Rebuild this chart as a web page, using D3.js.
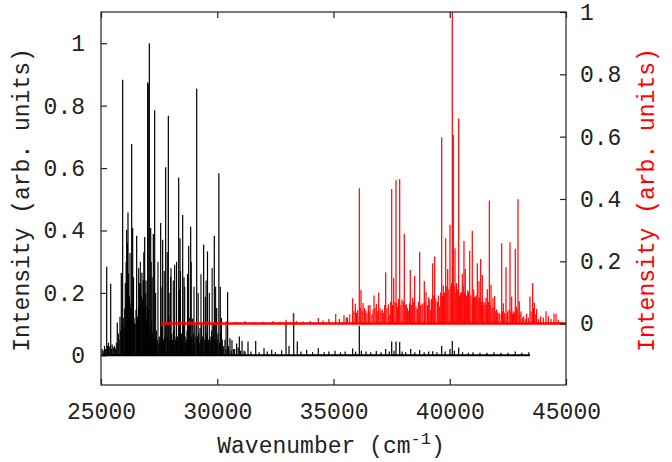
<!DOCTYPE html>
<html>
<head>
<meta charset="utf-8">
<script src="https://cdn.jsdelivr.net/npm/d3@7"></script>
<style>
  html, body { margin: 0; padding: 0; background: #fff; }
  svg { display: block; }
  text { font-family: "Liberation Mono", "Courier New", monospace; }
</style>
</head>
<body>
<svg id="chart" width="672" height="462"></svg>
<script>
// ---------- data ----------
const xTicks = [25000, 30000, 35000, 40000, 45000];
const yLeftTicks = [0, 0.2, 0.4, 0.6, 0.8, 1];
const yRightTicks = [0, 0.2, 0.4, 0.6, 0.8, 1];
const xLabel = "Wavenumber (cm";
const xLabelSup = "-1";
const yLeftLabel = "Intensity (arb. units)";
const yRightLabel = "Intensity (arb. units)";

// black spectrum (left axis): main peaks
const blackX = [25050,25150,25245,25320,25387,25417,25480,25530,25632,25700,25745,25817,25874,25932,25990,
  26046,26104,26161,26175,26220,26247,26290,26319,26362,26390,26448,26505,26534,26578,26649,26706,26760,
  26820,26878,26922,26935,26980,27007,27030,27036,27079,27137,27180,27223,27251,27308,27322,27380,27422,
  27508,27566,27610,27652,27700,27753,27781,27830,27896,27968,27997,28040,28083,28130,28169,28230,28283,
  28341,28369,28398,28460,28513,28541,28570,28620,28656,28700,28756,28771,28810,28857,28900,28944,28990,
  29043,29116,29160,29202,29258,29331,29415,29487,29546,29580,29640,29688,29760,29831,29874,29975,30030,
  30069,30131,30147,30217,30280,30333,30446,30476,30547,30633,30700,30834,30900,30949,31066,31150,31323,
  31450,31654,31800,32011,32150,32342,32500,32772,32957,33086,33288,33443,33600,33847,34100,34346,34600,
  34800,35064,35300,35500,35825,35950,36110,36200,36400,36600,36840,37043,37245,37400,37503,37600,37688,
  37847,37950,38100,38320,38500,38707,38900,39094,39266,39450,39653,39800,40010,40110,40200,40384,40550,
  40800,41000,41300,41600,41900,42200,42500,42819,43100,43400];
const blackY = [0.02,0.03,0.284,0.04,0.03,0.229,0.035,0.026,0.022,0.105,0.07,0.124,0.264,0.883,0.09,
  0.232,0.402,0.458,0.263,0.19,0.328,0.167,0.677,0.408,0.183,0.104,0.145,0.383,0.124,0.232,0.232,0.265,
  0.24,0.379,0.199,0.24,0.16,0.875,0.87,0.145,1.0,0.408,0.11,0.07,0.389,0.785,0.04,0.08,0.05,
  0.06,0.424,0.09,0.37,0.05,0.06,0.603,0.1,0.768,0.124,0.252,0.07,0.05,0.08,0.29,0.06,0.06,
  0.57,0.21,0.375,0.07,0.45,0.1,0.25,0.06,0.04,0.08,0.09,0.351,0.12,0.413,0.05,0.118,0.07,
  0.1,0.854,0.06,0.07,0.088,0.1,0.355,0.188,0.07,0.333,0.05,0.06,0.08,0.1,0.383,0.152,0.07,
  0.583,0.22,0.07,0.051,0.03,0.05,0.202,0.03,0.055,0.048,0.02,0.038,0.025,0.06,0.047,0.015,0.044,
  0.012,0.046,0.01,0.023,0.012,0.018,0.01,0.016,0.105,0.03,0.135,0.044,0.012,0.018,0.01,0.023,0.01,
  0.012,0.015,0.01,0.012,0.022,0.012,0.095,0.015,0.012,0.01,0.014,0.01,0.02,0.012,0.044,0.015,0.044,
  0.043,0.012,0.01,0.02,0.01,0.017,0.01,0.012,0.013,0.01,0.03,0.012,0.02,0.046,0.015,0.025,0.01,
  0.008,0.01,0.008,0.008,0.01,0.008,0.008,0.012,0.008,0.01];
// black spectrum: further mid-height lines in the dense band
const blackMidX = [26080,26140,26400,26620,26690,26840,27160,27200,27350,27450,27620,27720,27850,27930,
  28010,28110,28250,28420,28600,28720,28880,29000,29180,29300,29520,29660,29780,29930,30180,30380];
const blackMidY = [0.3,0.36,0.25,0.28,0.3,0.33,0.3,0.25,0.2,0.3,0.22,0.27,0.33,0.2,
  0.28,0.24,0.3,0.27,0.22,0.26,0.3,0.22,0.2,0.26,0.24,0.2,0.28,0.22,0.12,0.1];
// black spectrum: weaker lines filling the band
const blackMinorX = [25100,25200,25280,25350,25450,25580,25660,25780,25850,25900,25960,26020,26070,26130,
  26200,26270,26340,26420,26470,26560,26610,26680,26730,26790,26850,26900,26960,27060,27110,27160,27280,
  27350,27460,27530,27590,27680,27730,27860,27930,28020,28110,28200,28310,28430,28490,28600,28680,28730,
  28830,28880,28960,29020,29080,29140,29230,29290,29370,29460,29520,29610,29660,29720,29800,29900,29950,
  30000,30100,30180,30250,30380,30500,30600,30750,31000,31200];
const blackMinorY = [0.015,0.02,0.03,0.025,0.02,0.03,0.04,0.05,0.08,0.1,0.12,0.15,0.17,0.2,
  0.18,0.15,0.14,0.12,0.1,0.12,0.15,0.17,0.19,0.18,0.15,0.13,0.11,0.09,0.07,0.05,0.06,
  0.05,0.04,0.05,0.04,0.05,0.04,0.06,0.05,0.05,0.04,0.05,0.05,0.06,0.05,0.04,0.05,0.04,
  0.05,0.06,0.05,0.04,0.06,0.05,0.04,0.05,0.06,0.05,0.04,0.05,0.04,0.05,0.06,0.05,0.04,
  0.05,0.04,0.03,0.025,0.02,0.02,0.015,0.02,0.015,0.012];
const blackStart = 25000, blackEnd = 43450;

// red spectrum (right axis)
const redX = [27650,28000,28400,28800,29200,29600,30000,30400,30800,31200,31600,32000,32400,32700,32957,
  33130,33271,33400,33700,34000,34346,34550,34800,35095,35250,35451,35600,35825,35938,36040,36110,36183,
  36269,36385,36497,36570,36650,36742,36841,36944,37043,37142,37245,37357,37420,37503,37589,37688,37761,
  37847,37946,38045,38131,38234,38303,38406,38492,38604,38707,38806,38905,38978,39094,39180,39266,39352,
  39465,39566,39653,39723,39825,39912,40010,40054,40110,40153,40226,40298,40384,40470,40539,40612,40668,
  40772,40858,40969,41030,41099,41185,41258,41331,41400,41473,41559,41616,41702,41774,41860,41933,42019,
  42118,42234,42303,42419,42492,42591,42664,42733,42819,42862,42935,42991,43064,43180,43309,43451,43567,
  43636,43739,43825,43911,44024,44140,44239,44355,44484,44570,44669,44815];
const redY = [0.005,0.008,0.006,0.01,0.006,0.008,0.005,0.008,0.006,0.008,0.005,0.006,0.008,0.006,0.012,
  0.006,0.033,0.008,0.007,0.008,0.018,0.01,0.015,0.031,0.015,0.027,0.02,0.081,0.064,0.043,0.434,0.108,
  0.066,0.043,0.059,0.06,0.03,0.09,0.064,0.1,0.041,0.035,0.165,0.062,0.03,0.432,0.146,0.461,0.053,
  0.464,0.077,0.288,0.062,0.041,0.172,0.083,0.153,0.048,0.231,0.062,0.137,0.102,0.085,0.044,0.194,0.215,
  0.07,0.055,0.598,0.122,0.274,0.175,0.317,0.12,1.0,0.605,0.242,0.13,0.658,0.1,0.16,0.265,0.175,
  0.107,0.234,0.298,0.11,0.087,0.194,0.136,0.207,0.156,0.07,0.083,0.11,0.395,0.125,0.083,0.089,0.046,
  0.035,0.258,0.065,0.181,0.04,0.261,0.087,0.04,0.24,0.055,0.399,0.072,0.04,0.024,0.032,0.087,0.13,
  0.068,0.048,0.016,0.024,0.02,0.04,0.024,0.016,0.032,0.032,0.012,0.006];
const redMinorX = [35550,35700,35880,35990,36150,36230,36330,36440,36530,36700,36790,36900,37000,37100,
  37200,37300,37460,37540,37640,37720,37800,37900,38000,38090,38180,38270,38350,38450,38550,38650,38750,
  38850,38940,39040,39140,39220,39310,39400,39510,39610,39690,39770,39870,39960,40080,40190,40260,40340,
  40420,40500,40580,40640,40720,40810,40910,41000,41060,41140,41220,41290,41370,41440,41520,41590,41660,
  41740,41820,41900,41980,42060,42160,42270,42360,42460,42550,42630,42700,42780,42900,43020,43120,43250,
  43380,43500,43600,43700];
const redMinorY = [0.02,0.03,0.04,0.035,0.05,0.04,0.05,0.035,0.04,0.045,0.05,0.04,0.05,0.045,
  0.06,0.05,0.07,0.06,0.07,0.065,0.08,0.06,0.07,0.06,0.05,0.065,0.06,0.07,0.055,0.07,0.06,
  0.065,0.07,0.06,0.075,0.08,0.09,0.08,0.09,0.1,0.09,0.1,0.12,0.11,0.13,0.12,0.1,0.11,
  0.09,0.1,0.12,0.1,0.09,0.1,0.09,0.08,0.085,0.09,0.08,0.085,0.07,0.06,0.065,0.06,0.07,
  0.06,0.05,0.055,0.04,0.035,0.03,0.04,0.035,0.03,0.045,0.04,0.03,0.035,0.045,0.03,0.02,0.015,
  0.02,0.04,0.05,0.03];
const redStart = 27624, redEnd = 45000;

// ---------- drawing ----------
const plot = { left: 101, right: 566, top: 12, bottom: 385 };
const FONT = 23;

const svg = d3.select("#chart");
const x = d3.scaleLinear().domain([25000, 45000]).range([plot.left, plot.right]);
const yL = d3.scaleLinear().domain([-0.095, 1.1]).range([plot.bottom, plot.top]);
const yR = d3.scaleLinear().domain([-0.197, 1.0]).range([plot.bottom, plot.top]);

svg.append("defs").append("clipPath").attr("id", "clip")
  .append("rect").attr("x", plot.left).attr("y", plot.top)
  .attr("width", plot.right - plot.left).attr("height", plot.bottom - plot.top);

const g = svg.append("g").attr("clip-path", "url(#clip)");

function sticks(xs, ys, yScale, color, width) {
  const data = xs.map((v, i) => [v, ys[i]]);
  g.append("g").selectAll("line").data(data).join("line")
    .attr("x1", d => x(d[0])).attr("x2", d => x(d[0]))
    .attr("y1", yScale(0)).attr("y2", d => yScale(d[1]))
    .attr("stroke", color).attr("stroke-width", width);
}

// black
sticks(blackMinorX, blackMinorY, yL, "#000", 1.1);
sticks(blackMidX, blackMidY, yL, "#000", 1.1);
sticks(blackX, blackY, yL, "#000", 1.2);
g.append("line").attr("x1", x(blackStart)).attr("x2", x(blackEnd))
  .attr("y1", yL(0)).attr("y2", yL(0)).attr("stroke", "#000").attr("stroke-width", 2);

// red
sticks(redMinorX, redMinorY, yR, "#ff0000", 1.1);
sticks(redX, redY, yR, "#ff0000", 1.2);
g.append("line").attr("x1", x(redStart)).attr("x2", x(redEnd))
  .attr("y1", yR(0)).attr("y2", yR(0)).attr("stroke", "#ff0000").attr("stroke-width", 2.5);

// frame
svg.append("rect").attr("x", plot.left).attr("y", plot.top)
  .attr("width", plot.right - plot.left).attr("height", plot.bottom - plot.top)
  .attr("fill", "none").attr("stroke", "#222").attr("stroke-width", 1.2);

function styleAxis(sel) {
  sel.select(".domain").remove();
  sel.selectAll(".tick line").attr("stroke", "#222").attr("stroke-width", 1.2);
  sel.selectAll(".tick text").attr("font-family", "Liberation Mono, Courier New, monospace")
    .attr("font-size", FONT).attr("fill", "#222");
}

// bottom axis
svg.append("g").attr("transform", `translate(0,${plot.bottom})`)
  .call(d3.axisBottom(x).tickValues(xTicks).tickSize(-6).tickPadding(18).tickFormat(d3.format("d")))
  .call(styleAxis);
// top mirror ticks
svg.append("g").attr("transform", `translate(0,${plot.top})`)
  .call(d3.axisTop(x).tickValues(xTicks).tickSize(-6).tickFormat(""))
  .call(styleAxis);
// left axis
svg.append("g").attr("transform", `translate(${plot.left},0)`)
  .call(d3.axisLeft(yL).tickValues(yLeftTicks).tickSize(-6).tickPadding(16).tickFormat(d3.format("~g")))
  .call(styleAxis);
// right axis
svg.append("g").attr("transform", `translate(${plot.right},0)`)
  .call(d3.axisRight(yR).tickValues(yRightTicks).tickSize(-6).tickPadding(14).tickFormat(d3.format("~g")))
  .call(styleAxis);

// axis titles
const xt = svg.append("text").attr("x", 331).attr("y", 453)
  .attr("text-anchor", "middle").attr("font-size", FONT).attr("fill", "#222");
xt.append("tspan").text(xLabel);
xt.append("tspan").attr("dy", -9).attr("font-size", 17).text(xLabelSup);
xt.append("tspan").attr("dy", 9).text(")");

svg.append("text").attr("transform", "translate(29,200) rotate(-90)")
  .attr("text-anchor", "middle").attr("font-size", FONT).attr("fill", "#222")
  .text(yLeftLabel);
svg.append("text").attr("transform", "translate(654,200) rotate(-90)")
  .attr("text-anchor", "middle").attr("font-size", FONT).attr("fill", "#ff0000")
  .text(yRightLabel);
</script>
</body>
</html>
